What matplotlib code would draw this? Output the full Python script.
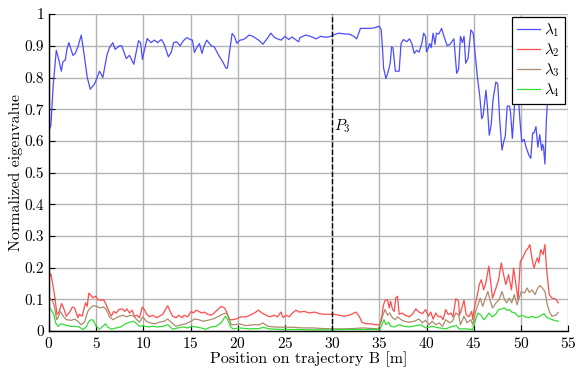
import matplotlib
matplotlib.use("Agg")
import matplotlib.pyplot as plt

# eigenvalues
lam1_x = [0.0, 0.2, 0.45, 0.77, 1.0, 1.3, 1.47, 1.72, 1.9, 2.1, 2.53, 2.78, 3.06, 3.41, 3.7, 4.05, 4.37, 4.83,
          5.35, 5.7, 6.13, 6.41, 6.76, 7.0, 7.47, 7.7, 8.18, 8.53, 8.98, 9.48, 9.7, 9.9, 10.1, 10.4, 10.8, 11.17,
          11.5, 11.9, 12.2, 12.65, 12.95, 13.2, 13.5, 13.9, 14.2, 14.6, 14.95, 15.2, 15.4, 15.65, 15.94, 16.2,
          16.4, 16.7, 17.2, 17.5, 17.98, 18.4, 18.76, 18.9, 19.2, 19.4, 19.65, 19.9, 20.25, 20.6, 20.9, 21.2,
          21.6, 22.0, 22.3, 22.65, 23.1, 23.5, 23.9, 24.2, 24.6, 25.0, 25.4, 25.75, 26.1, 26.45, 26.6, 27.2,
          27.7, 28.3, 28.8, 29.35, 29.9, 30.2, 30.7, 31.45, 31.8, 32.3, 32.6, 33.0, 33.5, 34.1, 34.6, 35.0,
          35.2, 35.35, 35.45, 35.7, 35.95, 36.15, 36.3, 36.45, 36.7, 36.9, 37.1, 37.3, 37.55, 37.9, 38.2,
          38.45, 38.7, 38.95, 39.2, 39.5, 39.7, 39.9, 40.0, 40.2, 40.35, 40.5, 40.7, 40.9, 41.05, 41.3, 41.6,
          41.85, 42.2, 42.5, 42.8, 42.9, 43.2, 43.4, 43.6, 43.8, 43.98, 44.15, 44.4, 44.7, 44.95, 45.15, 45.4,
          45.65, 45.85, 46.0, 46.3, 46.45, 46.65, 46.85, 47.05, 47.35, 47.55, 47.75, 48.0, 48.2, 48.35, 48.55,
          48.8, 48.9, 49.1, 49.3, 49.5, 49.65, 49.9, 50.1, 50.35, 50.55, 50.85, 51.05, 51.25, 51.4, 51.6, 51.8,
          52.0, 52.2, 52.3, 52.4, 52.55, 52.7, 52.95, 53.3, 53.96]
lam1_y = [0.633, 0.65, 0.78, 0.886, 0.86, 0.82, 0.85, 0.855, 0.89, 0.91, 0.87, 0.876, 0.897, 0.934, 0.876, 0.80,
          0.763, 0.78, 0.82, 0.80, 0.87, 0.895, 0.91, 0.889, 0.90, 0.90, 0.86, 0.87, 0.842, 0.916, 0.91, 0.857,
          0.886, 0.923, 0.91, 0.918, 0.91, 0.92, 0.905, 0.865, 0.88, 0.91, 0.913, 0.90, 0.915, 0.926, 0.92,
          0.918, 0.879, 0.894, 0.907, 0.876, 0.897, 0.918, 0.90, 0.897, 0.87, 0.85, 0.829, 0.83, 0.897, 0.939,
          0.93, 0.908, 0.918, 0.92, 0.926, 0.934, 0.93, 0.922, 0.916, 0.905, 0.922, 0.94, 0.926, 0.922, 0.918,
          0.93, 0.92, 0.928, 0.92, 0.913, 0.926, 0.934, 0.93, 0.922, 0.93, 0.927, 0.93, 0.935, 0.94, 0.937,
          0.937, 0.93, 0.922, 0.955, 0.955, 0.955, 0.958, 0.962, 0.95, 0.886, 0.83, 0.797, 0.82, 0.845, 0.897,
          0.893, 0.82, 0.82, 0.82, 0.907, 0.92, 0.913, 0.922, 0.907, 0.876, 0.886, 0.88, 0.907, 0.94, 0.93,
          0.881, 0.894, 0.907, 0.894, 0.94, 0.905, 0.94, 0.937, 0.955, 0.93, 0.90, 0.905, 0.918, 0.922, 0.813,
          0.826, 0.93, 0.91, 0.93, 0.845, 0.86, 0.95, 0.94, 0.876, 0.80, 0.74, 0.67, 0.68, 0.76, 0.71, 0.618,
          0.65, 0.73, 0.786, 0.78, 0.67, 0.571, 0.60, 0.615, 0.71, 0.71, 0.69, 0.608, 0.70, 0.808, 0.78, 0.665,
          0.597, 0.605, 0.58, 0.555, 0.545, 0.625, 0.625, 0.645, 0.58, 0.62, 0.57, 0.59, 0.58, 0.527, 0.665,
          0.786, 0.88, 0.92]

lam2_x = [0.0, 0.1, 0.2, 0.3, 0.6, 0.84, 1.05, 1.33, 1.54, 1.83, 2.2, 2.46, 2.7, 3.06, 3.2, 3.5, 3.87, 4.04,
          4.22, 4.46, 4.64, 4.92, 5.18, 5.53, 5.78, 6.06, 6.35, 6.6, 6.85, 7.12, 7.4, 7.75, 8.04, 8.25, 8.53,
          8.8, 9.06, 9.34, 9.59, 9.87, 10.1, 10.36, 10.64, 11.0, 11.4, 11.7, 12.05, 12.33, 12.58, 12.83, 13.1,
          13.45, 13.74, 14.1, 14.3, 14.7, 15.05, 15.3, 15.57, 15.86, 16.2, 16.46, 16.8, 17.17, 17.5, 17.87,
          18.23, 18.6, 18.83, 19.1, 19.47, 19.8, 20.35, 20.87, 21.3, 21.76, 22.2, 22.57, 23.0, 23.4, 23.87,
          24.2, 24.58, 24.8, 25.1, 25.45, 25.8, 26.16, 26.5, 27.06, 27.6, 28.1, 28.65, 29.17, 29.7, 30.2,
          30.75, 31.27, 31.8, 32.2, 32.5, 32.87, 33.15, 33.6, 34.1, 34.6, 35.05, 35.27, 35.4, 35.6, 35.87,
          36.05, 36.2, 36.4, 36.58, 36.75, 36.93, 37.1, 37.4, 37.75, 38.2, 38.5, 38.87, 39.2, 39.57, 39.9,
          40.2, 40.45, 40.7, 40.98, 41.26, 41.5, 41.76, 42.04, 42.3, 42.57, 42.8, 43.1, 43.4, 43.5, 43.7,
          43.97, 44.2, 44.5, 44.78, 44.9, 45.1, 45.36, 45.6, 45.8, 46.06, 46.3, 46.6, 46.77, 47.0, 47.3,
          47.64, 47.92, 48.17, 48.4, 48.7, 49.0, 49.23, 49.5, 49.7, 49.94, 50.2, 50.5, 50.77, 50.95, 51.2,
          51.4, 51.55, 51.75, 51.9, 52.1, 52.35, 52.55, 52.7, 53.0, 53.3, 53.7, 53.96]
lam2_y = [0.196, 0.173, 0.18, 0.162, 0.11, 0.052, 0.06, 0.087, 0.073, 0.047, 0.06, 0.076, 0.073, 0.042, 0.053,
          0.047, 0.089, 0.078, 0.12, 0.112, 0.105, 0.11, 0.099, 0.097, 0.099, 0.083, 0.062, 0.047, 0.062,
          0.057, 0.068, 0.07, 0.062, 0.07, 0.057, 0.066, 0.047, 0.05, 0.042, 0.076, 0.068, 0.053, 0.045, 0.05,
          0.042, 0.047, 0.053, 0.068, 0.08, 0.062, 0.047, 0.042, 0.05, 0.042, 0.05, 0.045, 0.062, 0.057,
          0.066, 0.062, 0.057, 0.06, 0.053, 0.05, 0.057, 0.068, 0.078, 0.073, 0.06, 0.036, 0.036, 0.038,
          0.045, 0.045, 0.05, 0.057, 0.066, 0.057, 0.05, 0.045, 0.05, 0.045, 0.06, 0.042, 0.05, 0.045, 0.057,
          0.066, 0.06, 0.062, 0.057, 0.06, 0.055, 0.053, 0.053, 0.053, 0.05, 0.047, 0.05, 0.055, 0.06, 0.047,
          0.028, 0.023, 0.023, 0.02, 0.02, 0.047, 0.078, 0.097, 0.099, 0.073, 0.094, 0.068, 0.062, 0.105,
          0.11, 0.053, 0.057, 0.05, 0.045, 0.053, 0.07, 0.06, 0.055, 0.068, 0.047, 0.06, 0.038, 0.057, 0.045,
          0.047, 0.036, 0.068, 0.052, 0.057, 0.045, 0.102, 0.094, 0.05, 0.068, 0.097, 0.052, 0.045, 0.062,
          0.036, 0.078, 0.11, 0.147, 0.162, 0.13, 0.154, 0.205, 0.162, 0.104, 0.13, 0.162, 0.215, 0.178,
          0.147, 0.178, 0.13, 0.199, 0.141, 0.099, 0.22, 0.231, 0.252, 0.262, 0.273, 0.225, 0.199, 0.215,
          0.231, 0.215, 0.257, 0.241, 0.273, 0.205, 0.115, 0.104, 0.101, 0.089]

lam3_x = [0.0, 0.2, 0.4, 0.6, 0.8, 0.95, 1.2, 1.5, 1.83, 2.37, 2.7, 3.06, 3.4, 3.77, 4.1, 4.36, 4.7, 5.05,
          5.42, 5.78, 6.06, 6.4, 6.78, 7.12, 7.5, 7.85, 8.25, 8.6, 8.96, 9.3, 9.59, 9.94, 10.3, 10.7, 11.2,
          11.7, 12.2, 12.58, 12.93, 13.45, 14.0, 14.5, 15.05, 15.4, 15.86, 16.3, 16.8, 17.35, 17.87, 18.35,
          18.76, 19.05, 19.3, 19.65, 20.17, 20.87, 21.6, 22.3, 22.65, 23.2, 23.87, 24.75, 25.8, 26.9, 27.95,
          29.0, 30.1, 31.1, 32.2, 33.25, 34.3, 34.9, 35.2, 35.4, 35.6, 35.87, 36.1, 36.4, 36.7, 36.93, 37.3,
          37.64, 38.2, 38.7, 39.05, 39.2, 39.57, 39.9, 40.25, 40.6, 40.98, 41.33, 41.7, 42.04, 42.47, 42.75,
          43.1, 43.4, 43.6, 43.97, 44.3, 44.7, 44.9, 45.2, 45.45, 45.7, 45.95, 46.2, 46.5, 46.77, 47.0, 47.36,
          47.7, 48.0, 48.27, 48.5, 48.77, 49.03, 49.3, 49.6, 49.76, 50.05, 50.4, 50.66, 50.9, 51.2, 51.5,
          51.75, 52.0, 52.27, 52.55, 52.8, 53.05, 53.3, 53.7, 53.96]
lam3_y = [0.105, 0.1, 0.094, 0.073, 0.036, 0.042, 0.062, 0.047, 0.036, 0.034, 0.038, 0.031, 0.02, 0.028,
          0.062, 0.073, 0.08, 0.078, 0.073, 0.076, 0.068, 0.045, 0.036, 0.042, 0.047, 0.05, 0.045, 0.05,
          0.047, 0.036, 0.028, 0.045, 0.031, 0.026, 0.023, 0.028, 0.031, 0.038, 0.028, 0.015, 0.02, 0.023,
          0.031, 0.038, 0.036, 0.031, 0.034, 0.038, 0.045, 0.053, 0.057, 0.045, 0.02, 0.02, 0.023, 0.017,
          0.02, 0.02, 0.026, 0.015, 0.013, 0.012, 0.012, 0.01, 0.01, 0.008, 0.007, 0.007, 0.008, 0.01, 0.008,
          0.007, 0.031, 0.052, 0.068, 0.05, 0.057, 0.042, 0.036, 0.045, 0.036, 0.031, 0.028, 0.031, 0.036,
          0.038, 0.026, 0.034, 0.02, 0.031, 0.02, 0.026, 0.015, 0.036, 0.026, 0.031, 0.057, 0.052, 0.02,
          0.047, 0.026, 0.036, 0.02, 0.062, 0.083, 0.104, 0.078, 0.099, 0.125, 0.094, 0.073, 0.089, 0.099,
          0.125, 0.099, 0.089, 0.104, 0.089, 0.115, 0.083, 0.099, 0.125, 0.12, 0.136, 0.122, 0.13, 0.115,
          0.133, 0.144, 0.136, 0.125, 0.083, 0.059, 0.047, 0.05, 0.059]

lam4_x = [0.0, 0.2, 0.5, 0.7, 0.95, 1.3, 1.65, 2.2, 2.7, 3.2, 3.6, 3.94, 4.22, 4.46, 4.7, 5.0, 5.35, 5.7,
          6.0, 6.2, 6.6, 7.12, 7.6, 8.1, 8.53, 8.96, 9.3, 9.59, 9.94, 10.46, 11.0, 11.5, 12.1, 12.58, 13.1,
          13.64, 14.2, 14.7, 15.16, 15.57, 16.1, 16.6, 17.17, 17.7, 18.23, 18.7, 18.93, 19.2, 19.47, 20.17,
          21.2, 22.3, 22.65, 23.35, 24.75, 26.16, 27.95, 29.7, 31.45, 33.25, 34.6, 35.05, 35.27, 35.5, 35.7,
          35.97, 36.2, 36.58, 37.1, 37.64, 38.2, 38.87, 39.4, 39.9, 40.6, 41.33, 42.04, 42.75, 43.2, 43.45,
          44.15, 44.9, 45.2, 45.45, 45.8, 46.06, 46.3, 46.6, 46.95, 47.3, 47.64, 48.0, 48.27, 48.5, 48.77,
          49.03, 49.4, 49.76, 50.1, 50.48, 50.84, 51.2, 51.55, 51.9, 52.45, 52.8, 53.3, 53.96]
lam4_y = [0.073, 0.068, 0.053, 0.026, 0.015, 0.023, 0.02, 0.015, 0.015, 0.013, 0.005, 0.013, 0.031, 0.036,
          0.034, 0.015, 0.006, 0.015, 0.023, 0.013, 0.006, 0.01, 0.013, 0.023, 0.028, 0.031, 0.023, 0.015,
          0.017, 0.013, 0.015, 0.013, 0.015, 0.02, 0.006, 0.01, 0.013, 0.01, 0.015, 0.013, 0.01, 0.006, 0.013,
          0.015, 0.026, 0.047, 0.036, 0.015, 0.007, 0.01, 0.007, 0.008, 0.012, 0.007, 0.005, 0.005, 0.004,
          0.004, 0.005, 0.005, 0.005, 0.005, 0.02, 0.036, 0.02, 0.028, 0.015, 0.013, 0.02, 0.015, 0.013,
          0.017, 0.02, 0.01, 0.015, 0.01, 0.007, 0.015, 0.017, 0.007, 0.007, 0.005, 0.036, 0.057, 0.05,
          0.036, 0.042, 0.057, 0.045, 0.052, 0.068, 0.07, 0.073, 0.066, 0.068, 0.06, 0.057, 0.045, 0.05,
          0.045, 0.042, 0.047, 0.042, 0.045, 0.055, 0.042, 0.036, 0.031]

x_ticks = [0, 5, 10, 15, 20, 25, 30, 35, 40, 45, 50, 55]
y_ticks = [0, 0.1, 0.2, 0.3, 0.4, 0.5, 0.6, 0.7, 0.8, 0.9, 1]
y_labels = ["0", "0.1", "0.2", "0.3", "0.4", "0.5", "0.6", "0.7", "0.8", "0.9", "1"]
p3_pos = 30

plt.rcParams["font.family"] = "serif"
plt.rcParams["font.serif"] = ["cmr10", "DejaVu Serif"]
plt.rcParams["mathtext.fontset"] = "cm"
plt.rcParams["axes.unicode_minus"] = False
plt.rcParams["axes.formatter.use_mathtext"] = True

fig = plt.figure(figsize=(5.77, 3.72), dpi=100)
ax = fig.add_axes([0.085, 0.110, 0.8995, 0.852])

ax.plot(lam1_x, lam1_y, color="#4c4cff", lw=0.9, label=r"$\lambda_1$")
ax.plot(lam2_x, lam2_y, color="#ff4c4c", lw=0.9, label=r"$\lambda_2$")
ax.plot(lam3_x, lam3_y, color="#ad8b6e", lw=0.9, label=r"$\lambda_3$")
ax.plot(lam4_x, lam4_y, color="#33dd33", lw=0.9, label=r"$\lambda_4$")

ax.axvline(p3_pos, color="black", ls="--", lw=1.0)
ax.text(p3_pos + 0.15, 0.645, r"$P_3$", fontsize=11, ha="left", va="center")

ax.set_xlim(0, 55)
ax.set_ylim(0, 1)
ax.set_xticks(x_ticks)
ax.set_yticks(y_ticks)
ax.set_yticklabels(y_labels)
ax.tick_params(direction="in", length=4, labelsize=11, color="black")
ax.grid(True, color="#b3b3b3", lw=1.0)
ax.set_axisbelow(True)
for s in ["top", "right"]:
    ax.spines[s].set_visible(False)
for s in ["left", "bottom"]:
    ax.spines[s].set_linewidth(1.0)

ax.set_xlabel("Position on trajectory B [m]", fontsize=11.5, labelpad=0)
ax.set_ylabel("Normalized eigenvalue", fontsize=11.5, labelpad=1)

leg = ax.legend(loc="upper right", fontsize=11, fancybox=False, edgecolor="black", framealpha=1,
                handlelength=1.5, handletextpad=0.3, labelspacing=0.15, borderpad=0.3, borderaxespad=0.2)
leg.get_frame().set_linewidth(0.9)

fig.savefig("out.png", dpi=100)
